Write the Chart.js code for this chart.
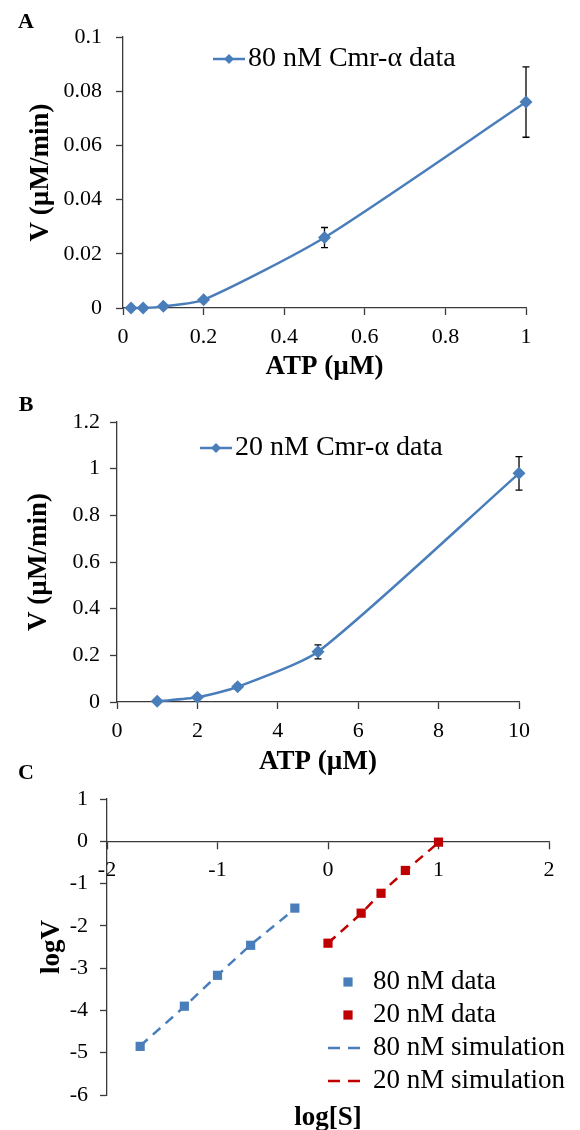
<!DOCTYPE html>
<html>
<head>
<meta charset="utf-8">
<title>Cmr-α ATP kinetics</title>
<script src="https://cdn.jsdelivr.net/npm/chart.js@4.4.1/dist/chart.umd.min.js"></script>
<style>
  html, body { margin: 0; background: #fff; }
  #page { position: relative; width: 580px; height: 1130px; overflow: hidden; }
  canvas { position: absolute; left: 0; }
</style>
</head>
<body>
<div id="page">
  <canvas id="panelA" width="580" height="390" style="top:0"></canvas>
  <canvas id="panelB" width="580" height="400" style="top:380px"></canvas>
  <canvas id="panelC" width="580" height="370" style="top:760px"></canvas>
</div>
<script>
// ---- data ----
// A: 80 nM Cmr-α
const atpA = [0.02, 0.05, 0.1, 0.2, 0.5, 1];
const rateA = [0, 0, 0.0006, 0.003, 0.026, 0.076];
const errA = [0, 0, 0, 0, 0.0037, 0.013];
const xTicksA = [0, 0.2, 0.4, 0.6, 0.8, 1];
const yTicksA = [0, 0.02, 0.04, 0.06, 0.08, 0.1];

// B: 20 nM Cmr-α
const atpB = [1, 2, 3, 5, 10];
const rateB = [0.003, 0.02, 0.065, 0.215, 0.98];
const errB = [0, 0.004, 0.01, 0.03, 0.072];
const xTicksB = [0, 2, 4, 6, 8, 10];
const yTicksB = [0, 0.2, 0.4, 0.6, 0.8, 1, 1.2];

// C: log-log plot
const logS80 = [-1.70, -1.30, -1.00, -0.70, -0.30];
const logV80 = [-4.85, -3.90, -3.17, -2.46, -1.58];
const logVsim80 = [-4.84, -3.91, -3.17, -2.45, -1.60];
const logS20 = [0, 0.30, 0.48, 0.70, 1.00];
const logV20 = [-2.41, -1.70, -1.23, -0.69, -0.02];
const logVsim20 = [-2.41, -1.71, -1.22, -0.70, -0.03];
const xTicksC = [-2, -1, 0, 1, 2];
const yTicksC = [1, 0, -1, -2, -3, -4, -5, -6];

const FONT = '"Liberation Serif", "Times New Roman", serif';
const AXIS = '#3a3a3a';
const BLUE = '#4a7ebb';
const RED = '#c00000';

Chart.defaults.font.family = FONT;
Chart.defaults.color = '#000';

const pts = (xs, ys) => xs.map((x, i) => ({ x, y: ys[i] }));

// panel letter (A, B, C)
const panelLetter = {
  id: 'panelLetter',
  afterDraw(chart, args, o) {
    const ctx = chart.ctx;
    ctx.save();
    ctx.font = `bold 22px ${FONT}`;
    ctx.fillStyle = '#000';
    ctx.textAlign = 'center';
    ctx.textBaseline = 'middle';
    ctx.fillText(o.text, o.x, o.y);
    ctx.restore();
  }
};

// vertical error bars with caps
const errorBars = {
  id: 'errorBars',
  beforeDatasetsDraw(chart) {
    const { ctx, scales: { x, y } } = chart;
    ctx.save();
    ctx.strokeStyle = '#000';
    ctx.lineWidth = 1.3;
    chart.data.datasets.forEach(ds => {
      if (!ds.errors) return;
      ds.data.forEach((p, i) => {
        const e = ds.errors[i];
        if (!e) return;
        const px = x.getPixelForValue(p.x);
        const top = y.getPixelForValue(p.y + e);
        const bot = y.getPixelForValue(p.y - e);
        ctx.beginPath();
        ctx.moveTo(px, top); ctx.lineTo(px, bot);
        ctx.moveTo(px - 3.5, top); ctx.lineTo(px + 3.5, top);
        ctx.moveTo(px - 3.5, bot); ctx.lineTo(px + 3.5, bot);
        ctx.stroke();
      });
    });
    ctx.restore();
  }
};

function marker(ctx, style, x, y, r, color) {
  ctx.fillStyle = color;
  ctx.beginPath();
  if (style === 'rectRot') {
    ctx.moveTo(x, y - r); ctx.lineTo(x + r, y); ctx.lineTo(x, y + r); ctx.lineTo(x - r, y);
  } else {
    const h = r * Math.SQRT1_2;
    ctx.rect(x - h, y - h, 2 * h, 2 * h);
  }
  ctx.closePath();
  ctx.fill();
}

// legend drawn inside the plot area, like the Excel original
const insideLegend = {
  id: 'insideLegend',
  afterDraw(chart, args, o) {
    const { ctx, chartArea } = chart;
    ctx.save();
    ctx.font = `${o.size || 27}px ${FONT}`;
    ctx.textBaseline = 'middle';
    chart.data.datasets.forEach((ds, i) => {
      const x = chartArea.left + o.left;
      const y = chartArea.top + o.top + i * (o.rowGap || 0);
      const w = o.keyWidth;
      if (ds.showLine !== false) {
        ctx.strokeStyle = ds.borderColor;
        ctx.lineWidth = ds.borderWidth;
        ctx.setLineDash(ds.borderDash ? [12, 8] : []);
        ctx.beginPath();
        ctx.moveTo(x, y); ctx.lineTo(x + w, y);
        ctx.stroke();
        ctx.setLineDash([]);
      }
      if (ds.pointRadius > 0) {
        marker(ctx, ds.pointStyle, x + w / 2 + (o.markerShift || 0), y, o.markerRadius, ds.pointBackgroundColor);
      }
      ctx.fillStyle = '#000';
      ctx.fillText(ds.label, x + w + o.gap, y);
    });
    ctx.restore();
  }
};

function axis(min, max, ticks, title, o) {
  return {
    type: 'linear',
    min, max,
    position: o.position,
    afterBuildTicks: s => { s.ticks = ticks.map(value => ({ value })); },
    afterFit: s => { if (s.isHorizontal()) s.height = o.size; else s.width = o.size; },
    border: { display: true, color: AXIS, width: 1.3 },
    grid: { drawOnChartArea: false, drawTicks: true, tickLength: 7, tickColor: AXIS, tickWidth: 1.3 },
    ticks: { padding: o.pad, font: { size: 22 }, color: '#000', autoSkip: false, maxRotation: 0,
             callback: v => String(v) },
    title: { display: true, text: title, color: '#000', font: { size: 27, weight: 'bold' }, padding: o.titlePad }
  };
}

function kineticsPanel(id, letter, cfg) {
  return new Chart(document.getElementById(id), {
    type: 'line',
    data: {
      datasets: [{
        label: cfg.label,
        data: pts(cfg.xs, cfg.ys),
        errors: cfg.errs,
        borderColor: BLUE,
        borderWidth: 2.5,
        tension: 0.22,
        pointStyle: 'rectRot',
        pointRadius: 6.5,
        pointBackgroundColor: BLUE,
        pointBorderWidth: 0,
        clip: false
      }]
    },
    options: {
      responsive: false,
      animation: false,
      layout: { padding: cfg.padding },
      plugins: {
        legend: { display: false },
        tooltip: { enabled: false },
        panelLetter: letter,
        insideLegend: cfg.legend
      },
      scales: {
        x: axis(cfg.xTicks[0], cfg.xTicks[cfg.xTicks.length - 1], cfg.xTicks, 'ATP (µM)',
                { size: cfg.xSize, pad: 9, titlePad: { bottom: cfg.xTitlePad } }),
        y: axis(cfg.yTicks[0], cfg.yTicks[cfg.yTicks.length - 1], cfg.yTicks, 'V (µM/min)',
                { size: cfg.ySize, pad: cfg.yPad, titlePad: { top: cfg.yTitlePad } })
      }
    },
    plugins: [errorBars, insideLegend, panelLetter]
  });
}

kineticsPanel('panelA', { text: 'A', x: 26, y: 22 }, {
  label: '80 nM Cmr-α data',
  xs: atpA, ys: rateA, errs: errA,
  xTicks: xTicksA, yTicks: yTicksA,
  padding: { left: 0, right: 54, top: 37, bottom: 0 },
  xSize: 82, ySize: 123, yPad: 14, xTitlePad: 7, yTitlePad: 25,
  legend: { left: 90, top: 22, keyWidth: 32, gap: 3, markerRadius: 5, size: 28 }
});

kineticsPanel('panelB', { text: 'B', x: 26, y: 25 }, {
  label: '20 nM Cmr-α data',
  xs: atpB, ys: rateB, errs: errB,
  xTicks: xTicksB, yTicks: yTicksB,
  padding: { left: 0, right: 61, top: 42, bottom: 0 },
  xSize: 78, ySize: 117, yPad: 10, xTitlePad: 2, yTitlePad: 23,
  legend: { left: 83, top: 26, keyWidth: 32, gap: 3, markerRadius: 5, size: 28 }
});

new Chart(document.getElementById('panelC'), {
  type: 'line',
  data: {
    datasets: [
      { label: '80 nM data', data: pts(logS80, logV80), showLine: false, pointStyle: 'rect',
        pointRadius: 6.5, pointBackgroundColor: BLUE, pointBorderWidth: 0, borderColor: BLUE, order: 0, clip: false },
      { label: '20 nM data', data: pts(logS20, logV20), showLine: false, pointStyle: 'rect',
        pointRadius: 6.5, pointBackgroundColor: RED, pointBorderWidth: 0, borderColor: RED, order: 0, clip: false },
      { label: '80 nM simulation', data: pts(logS80, logVsim80), borderColor: BLUE, borderWidth: 2.5,
        borderDash: [10, 7], pointRadius: 0, tension: 0, order: 1, clip: false },
      { label: '20 nM simulation', data: pts(logS20, logVsim20), borderColor: RED, borderWidth: 2.5,
        borderDash: [10, 7], pointRadius: 0, tension: 0, order: 1, clip: false }
    ]
  },
  options: {
    responsive: false,
    animation: false,
    layout: { padding: { left: 0, right: 31, top: 39, bottom: 35 } },
    plugins: {
      legend: { display: false },
      tooltip: { enabled: false },
      panelLetter: { text: 'C', x: 26, y: 13 },
      insideLegend: { left: 221, top: 183, rowGap: 33, keyWidth: 32, gap: 13, markerRadius: 6.5, markerShift: 4 }
    },
    scales: {
      x: axis(-2, 2, xTicksC, 'log[S]', { position: { y: 0 }, size: 300, pad: 9, titlePad: { bottom: 7 } }),
      y: axis(-6, 1, yTicksC, 'logV', { size: 107, pad: 12, titlePad: { top: 36 } })
    }
  },
  plugins: [insideLegend, panelLetter]
});
</script>
</body>
</html>
